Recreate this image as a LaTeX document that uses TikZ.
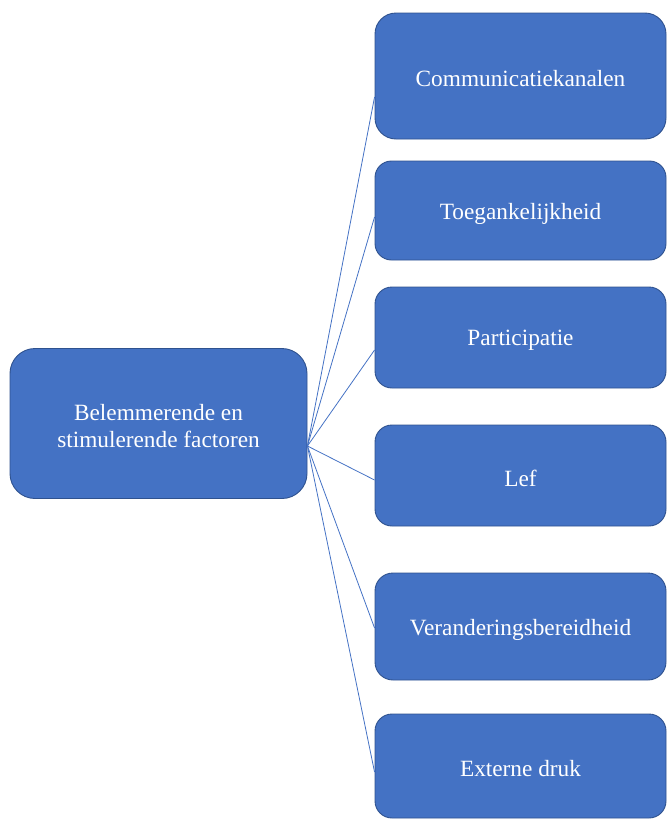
\documentclass[tikz,border=0pt]{standalone}
\usepackage{fontspec}
\setmainfont{Liberation Serif}
\definecolor{boxfill}{HTML}{4472C4}
\definecolor{boxline}{HTML}{2F528F}
\definecolor{linkcol}{HTML}{4472C4}
\newcommand{\lw}[1]{\raisebox{-3pt}[\height][\depth]{#1}}
\begin{document}
\begin{tikzpicture}[x=1pt,y=-1pt,
  box/.style={draw=boxline, line width=0.9pt, fill=boxfill, text=white,
    align=center, inner sep=0pt, font=\fontsize{23.3}{27}\selectfont},
  link/.style={draw=linkcol, line width=0.8pt}]
\useasboundingbox (0,0) rectangle (667,819);
\node[box, rounded corners=25, minimum width=297, minimum height=150] (L) at (158.5,423.5) {\lw{Belemmerende en}\\\lw{stimulerende factoren}};
\node[box, rounded corners=21, minimum width=291, minimum height=126] (b1) at (520.5,76) {\lw{Communicatiekanalen}};
\node[box, rounded corners=16.5, minimum width=291, minimum height=99] (b2) at (520.5,210.5) {\lw{Toegankelijkheid}};
\node[box, rounded corners=17, minimum width=291, minimum height=101] (b3) at (520.5,337.5) {\lw{Participatie}};
\node[box, rounded corners=17, minimum width=291, minimum height=101] (b4) at (520.5,475.5) {\lw{Lef}};
\node[box, rounded corners=18, minimum width=291, minimum height=107] (b5) at (520.5,626.5) {\lw{Veranderingsbereidheid}};
\node[box, rounded corners=17, minimum width=291, minimum height=104] (b6) at (520.5,766) {\lw{Externe druk}};
\coordinate (o) at ([yshift=-22.5pt]L.east);
\draw[link] (o) -- ([yshift=-21pt]b1.west);
\draw[link] (o) -- ([yshift=-6.5pt]b2.west);
\draw[link] (o) -- ([yshift=-12.5pt]b3.west);
\draw[link] (o) -- ([yshift=-4.5pt]b4.west);
\draw[link] (o) -- ([yshift=-1.5pt]b5.west);
\draw[link] (o) -- ([yshift=-6pt]b6.west);
\end{tikzpicture}
\end{document}
